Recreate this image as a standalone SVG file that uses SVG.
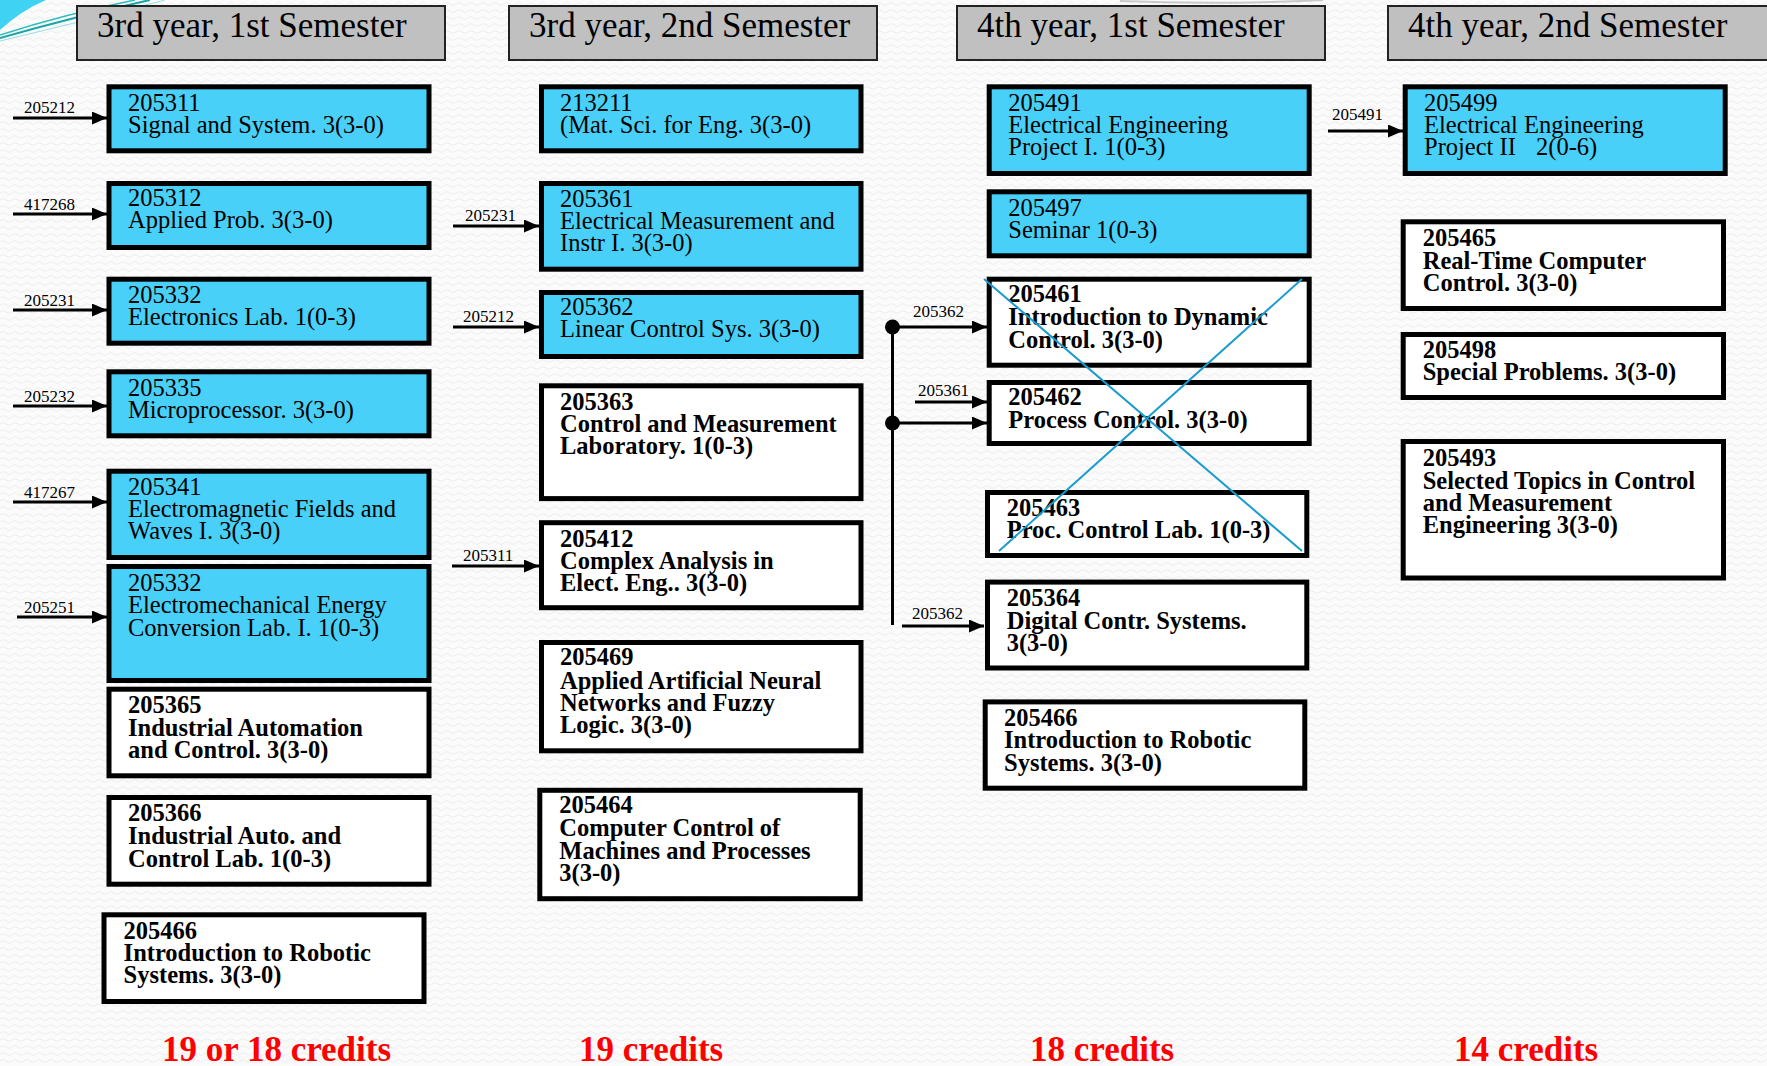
<svg xmlns="http://www.w3.org/2000/svg" width="1767" height="1066" viewBox="0 0 1767 1066">
<defs>
<pattern id="bgp" width="12" height="7" patternUnits="userSpaceOnUse">
<rect width="12" height="7" fill="#fbfbfb"/>
<path d="M0,4 Q3,1 6,4 T12,4" fill="none" stroke="#eeeeee" stroke-width="1"/>
</pattern>
<marker id="ah" markerUnits="userSpaceOnUse" markerWidth="16" markerHeight="14" refX="15" refY="6.5" orient="auto">
<path d="M0,0 L15,6.5 L0,13 Z" fill="#000"/>
</marker>
<style>
.hdr{fill:#c0c0c0;stroke:#222;stroke-width:2}
.ht{font-family:"Liberation Serif","Times New Roman",serif;font-size:35px;fill:#000}
.cb{fill:#48d0f8;stroke:#000;stroke-width:5}
.wb{fill:#fff;stroke:#000;stroke-width:5}
.t{font-family:"Liberation Serif","Times New Roman",serif;font-size:24.5px;fill:#000}
.b{font-weight:bold}
.lb{font-family:"Liberation Serif","Times New Roman",serif;font-size:17px;fill:#000}
.cn{stroke:#000;stroke-width:3;fill:none}
.ar{marker-end:url(#ah)}
.cr{font-family:"Liberation Serif","Times New Roman",serif;font-size:35px;font-weight:bold;fill:#ff0000}
.x{stroke:#1a9bd0;stroke-width:2;fill:none}
</style>
</defs>
<rect width="1767" height="1066" fill="url(#bgp)"/>
<g id="decor">
<path d="M0,0 L46,0 Q22,10 0,30 Z" fill="#3fd2f2"/>
<path d="M0,38 Q70,18 150,0" fill="none" stroke="#1aa6a6" stroke-width="2"/>
<path d="M0,35 Q65,14 135,0" fill="none" stroke="#2bbcbc" stroke-width="1.5"/>
<path d="M0,41 Q80,22 165,0" fill="none" stroke="#9adede" stroke-width="1"/>
<path d="M1120,1 Q1220,5 1323,0" fill="none" stroke="#c8c8c8" stroke-width="2"/>
</g>

<g id="headers">
<g id="h1"><rect class="hdr" x="77" y="6" width="368" height="54"/><text class="ht" x="97" y="37">3rd year, 1st Semester</text></g>
<g id="h2"><rect class="hdr" x="509" y="6" width="368" height="54"/><text class="ht" x="529" y="37">3rd year, 2nd Semester</text></g>
<g id="h3"><rect class="hdr" x="957" y="6" width="368" height="54"/><text class="ht" x="977" y="37">4th year, 1st Semester</text></g>
<g id="h4"><rect class="hdr" x="1388" y="6" width="390" height="54"/><text class="ht" x="1408" y="37">4th year, 2nd Semester</text></g>
</g>

<g id="connectors">
<line class="cn ar" x1="13" y1="118" x2="107" y2="118"/>
<text class="lb" x="24" y="113">205212</text>
<line class="cn ar" x1="13" y1="214" x2="107" y2="214"/>
<text class="lb" x="24" y="210">417268</text>
<line class="cn ar" x1="13" y1="310" x2="107" y2="310"/>
<text class="lb" x="24" y="306">205231</text>
<line class="cn ar" x1="13" y1="406" x2="107" y2="406"/>
<text class="lb" x="24" y="402">205232</text>
<line class="cn ar" x1="13" y1="502" x2="107" y2="502"/>
<text class="lb" x="24" y="498">417267</text>
<line class="cn ar" x1="17" y1="617" x2="107" y2="617"/>
<text class="lb" x="24" y="613">205251</text>

<line class="cn ar" x1="453" y1="226" x2="539" y2="226"/>
<text class="lb" x="465" y="221">205231</text>
<line class="cn ar" x1="453" y1="327" x2="539" y2="327"/>
<text class="lb" x="463" y="322">205212</text>
<line class="cn ar" x1="452" y1="566" x2="539" y2="566"/>
<text class="lb" x="463" y="561">205311</text>

<line class="cn" x1="892.5" y1="327" x2="892.5" y2="625"/>
<circle cx="892.5" cy="327" r="7.5" fill="#000"/>
<circle cx="892.5" cy="423" r="7.5" fill="#000"/>
<line class="cn ar" x1="892.5" y1="327" x2="987" y2="327"/>
<text class="lb" x="913" y="317">205362</text>
<line class="cn ar" x1="915" y1="402" x2="987" y2="402"/>
<text class="lb" x="918" y="396">205361</text>
<line class="cn ar" x1="892.5" y1="423" x2="987" y2="423"/>
<line class="cn ar" x1="902" y1="626" x2="984" y2="626"/>
<text class="lb" x="912" y="619">205362</text>

<line class="cn ar" x1="1328" y1="131" x2="1403" y2="131"/>
<text class="lb" x="1332" y="120">205491</text>
</g>

<g id="n205311"><rect class="cb" x="109" y="86.8" width="320" height="64"/><text class="t" x="128"><tspan x="128" y="111">205311</tspan><tspan x="128" y="133.3">Signal and System. 3(3-0)</tspan></text></g>
<g id="n205312"><rect class="cb" x="109" y="183.5" width="320" height="64"/><text class="t"><tspan x="128" y="205.7">205312</tspan><tspan x="128" y="227.7">Applied Prob. 3(3-0)</tspan></text></g>
<g id="n205332a"><rect class="cb" x="109" y="279.2" width="320" height="64"/><text class="t"><tspan x="128" y="302.7">205332</tspan><tspan x="128" y="325">Electronics Lab. 1(0-3)</tspan></text></g>
<g id="n205335"><rect class="cb" x="109" y="371.8" width="320" height="64"/><text class="t"><tspan x="128" y="395.7">205335</tspan><tspan x="128" y="417.7">Microprocessor. 3(3-0)</tspan></text></g>
<g id="n205341"><rect class="cb" x="109" y="471.2" width="320" height="86.3"/><text class="t"><tspan x="128" y="495">205341</tspan><tspan x="128" y="516.7">Electromagnetic Fields and</tspan><tspan x="128" y="539.3">Waves I. 3(3-0)</tspan></text></g>
<g id="n205332b"><rect class="cb" x="109" y="566.5" width="320" height="114"/><text class="t"><tspan x="128" y="590.7">205332</tspan><tspan x="128" y="613.3">Electromechanical Energy</tspan><tspan x="128" y="635.7">Conversion Lab. I. 1(0-3)</tspan></text></g>
<g id="n205365"><rect class="wb" x="109" y="689.2" width="320" height="86.6"/><text class="t b"><tspan x="128" y="712.7">205365</tspan><tspan x="128" y="736">Industrial Automation</tspan><tspan x="128" y="758.3">and Control. 3(3-0)</tspan></text></g>
<g id="n205366"><rect class="wb" x="109" y="797.5" width="320" height="86.7"/><text class="t b"><tspan x="128" y="820.7">205366</tspan><tspan x="128" y="844">Industrial Auto. and</tspan><tspan x="128" y="866.7">Control Lab. 1(0-3)</tspan></text></g>
<g id="n205466a"><rect class="wb" x="104" y="914.8" width="320" height="86.7"/><text class="t b"><tspan x="123.6" y="939">205466</tspan><tspan x="123.6" y="961">Introduction to Robotic</tspan><tspan x="123.6" y="983.3">Systems. 3(3-0)</tspan></text></g>

<g id="n213211"><rect class="cb" x="541.5" y="86.8" width="319.5" height="64"/><text class="t"><tspan x="560" y="111">213211</tspan><tspan x="560" y="133.3">(Mat. Sci. for Eng. 3(3-0)</tspan></text></g>
<g id="n205361"><rect class="cb" x="541.5" y="183.5" width="319.5" height="85.7"/><text class="t"><tspan x="560" y="206.7">205361</tspan><tspan x="560" y="229">Electrical Measurement and</tspan><tspan x="560" y="251.4">Instr I. 3(3-0)</tspan></text></g>
<g id="n205362"><rect class="cb" x="541.5" y="292.5" width="319.5" height="64"/><text class="t"><tspan x="560" y="315">205362</tspan><tspan x="560" y="337.3">Linear Control Sys. 3(3-0)</tspan></text></g>
<g id="n205363"><rect class="wb" x="541.5" y="385.8" width="319.5" height="112.8"/><text class="t b"><tspan x="560" y="409.5">205363</tspan><tspan x="560" y="431.9">Control and Measurement</tspan><tspan x="560" y="454.4">Laboratory. 1(0-3)</tspan></text></g>
<g id="n205412"><rect class="wb" x="541.5" y="522.7" width="319.5" height="85"/><text class="t b"><tspan x="560" y="546.5">205412</tspan><tspan x="560" y="569">Complex Analysis in</tspan><tspan x="560" y="591.1">Elect. Eng.. 3(3-0)</tspan></text></g>
<g id="n205469"><rect class="wb" x="541.5" y="642.5" width="319.5" height="108.3"/><text class="t b"><tspan x="560" y="665.4">205469</tspan><tspan x="560" y="688.8">Applied Artificial Neural</tspan><tspan x="560" y="711.3">Networks and Fuzzy</tspan><tspan x="560" y="733.4">Logic. 3(3-0)</tspan></text></g>
<g id="n205464"><rect class="wb" x="539.8" y="790.3" width="320.4" height="108.4"/><text class="t b"><tspan x="559.3" y="813.2">205464</tspan><tspan x="559.3" y="836.2">Computer Control of</tspan><tspan x="559.3" y="858.7">Machines and Processes</tspan><tspan x="559.3" y="880.8">3(3-0)</tspan></text></g>

<g id="n205491"><rect class="cb" x="989.2" y="86.8" width="320" height="86.7"/><text class="t"><tspan x="1008.3" y="111">205491</tspan><tspan x="1008.3" y="133.3">Electrical Engineering</tspan><tspan x="1008.3" y="155">Project I. 1(0-3)</tspan></text></g>
<g id="n205497"><rect class="cb" x="989.2" y="191.8" width="320" height="64"/><text class="t"><tspan x="1008.3" y="216">205497</tspan><tspan x="1008.3" y="238.3">Seminar 1(0-3)</tspan></text></g>
<g id="n205461"><rect class="wb" x="989.2" y="279.2" width="320" height="86"/><text class="t b"><tspan x="1008.3" y="301.7">205461</tspan><tspan x="1008.3" y="325">Introduction to Dynamic</tspan><tspan x="1008.3" y="347.7">Control. 3(3-0)</tspan></text></g>
<g id="n205462"><rect class="wb" x="989.2" y="382.5" width="320" height="61"/><text class="t b"><tspan x="1008.3" y="405">205462</tspan><tspan x="1008.3" y="428.3">Process Control. 3(3-0)</tspan></text></g>
<g id="n205463"><rect class="wb" x="987.5" y="492.5" width="319.3" height="63"/><text class="t b"><tspan x="1006.7" y="515.5">205463</tspan><tspan x="1006.7" y="538">Proc. Control Lab. 1(0-3)</tspan></text></g>
<g id="n205364"><rect class="wb" x="987.5" y="582.1" width="319.3" height="85.9"/><text class="t b"><tspan x="1006.7" y="606">205364</tspan><tspan x="1006.7" y="628.5">Digital Contr. Systems.</tspan><tspan x="1006.7" y="650.6">3(3-0)</tspan></text></g>
<g id="n205466b"><rect class="wb" x="985.2" y="701.9" width="319.6" height="86.3"/><text class="t b"><tspan x="1004" y="726.2">205466</tspan><tspan x="1004" y="748.3">Introduction to Robotic</tspan><tspan x="1004" y="770.8">Systems. 3(3-0)</tspan></text></g>
<g id="crossout">
<line class="x" x1="984" y1="279" x2="1302" y2="551"/>
<line class="x" x1="1302" y1="279" x2="999" y2="551"/>
</g>

<g id="n205499"><rect class="cb" x="1405.2" y="86.8" width="320" height="86.7"/><text class="t"><tspan x="1424" y="111">205499</tspan><tspan x="1424" y="133.3">Electrical Engineering</tspan><tspan x="1424" y="155">Project II</tspan><tspan x="1536" y="155">2(0-6)</tspan></text></g>
<g id="n205465"><rect class="wb" x="1403.2" y="221.8" width="320.3" height="86.7"/><text class="t b"><tspan x="1422.7" y="246">205465</tspan><tspan x="1422.7" y="268.5">Real-Time Computer</tspan><tspan x="1422.7" y="291">Control. 3(3-0)</tspan></text></g>
<g id="n205498"><rect class="wb" x="1403.2" y="334.5" width="320.3" height="63"/><text class="t b"><tspan x="1422.7" y="357.7">205498</tspan><tspan x="1422.7" y="380">Special Problems. 3(3-0)</tspan></text></g>
<g id="n205493"><rect class="wb" x="1403.2" y="441.5" width="320.3" height="136.5"/><text class="t b"><tspan x="1422.7" y="466">205493</tspan><tspan x="1422.7" y="488.5">Selected Topics in Control</tspan><tspan x="1422.7" y="511">and Measurement</tspan><tspan x="1422.7" y="533">Engineering 3(3-0)</tspan></text></g>

<g id="credits">
<text class="cr" x="162" y="1061">19 or 18 credits</text>
<text class="cr" x="579" y="1061">19 credits</text>
<text class="cr" x="1030" y="1061">18 credits</text>
<text class="cr" x="1454" y="1061">14 credits</text>
</g>
</svg>
